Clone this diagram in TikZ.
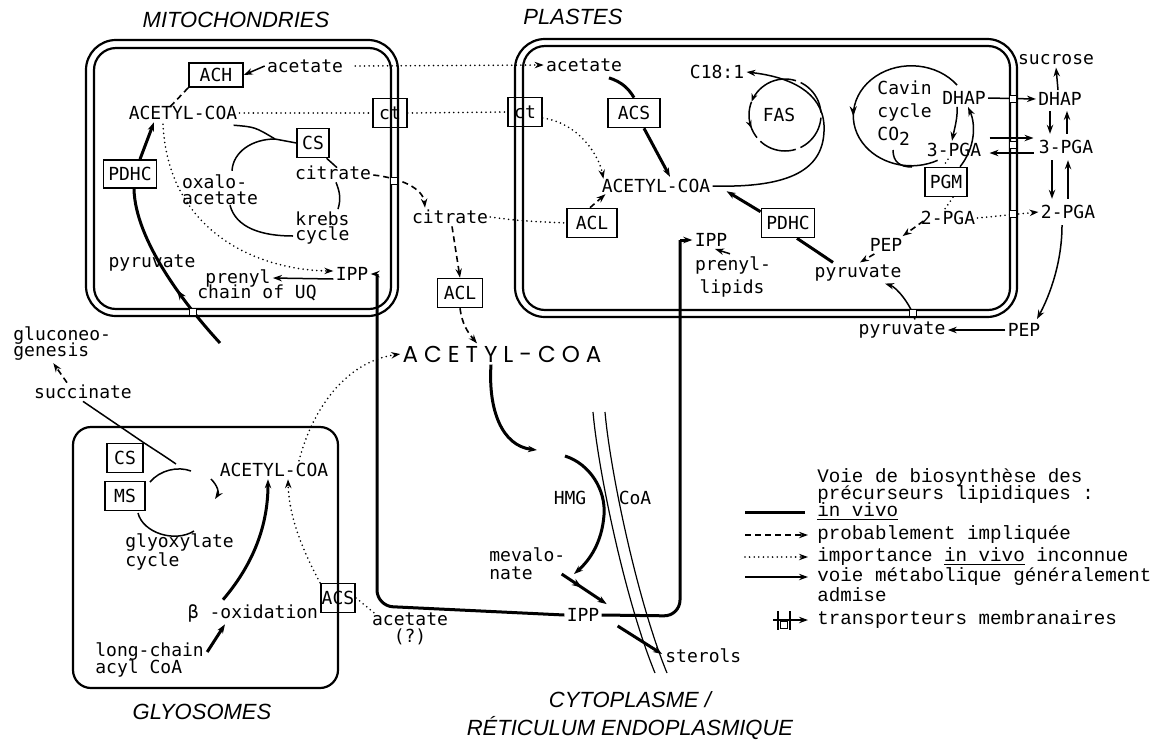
\documentclass[tikz,border=0pt]{standalone}
\usepackage{fontspec}
\setmainfont{Liberation Sans}
\setsansfont{Liberation Sans}
\setmonofont{DejaVu Sans Mono}
\newfontfamily\legfont{Liberation Mono}
\newfontfamily\widefont[LetterSpace=26]{Poppins}
\usetikzlibrary{arrows.meta,positioning,calc,decorations.markings}

\newcommand\labfont{\ttfamily\fontsize{9}{7.8}\selectfont}
\newcommand\titfont{\sffamily\itshape\fontsize{11}{13}\selectfont}

\tikzset{
  lab/.style={font=\labfont, inner sep=1pt},
  enz/.style={draw, line width=0.8pt, font=\labfont, inner xsep=2.5pt, inner ysep=0pt, minimum height=14.5pt},
  tport/.style={draw, line width=0.6pt, fill=white, minimum size=3.6pt, inner sep=0pt},
  arr/.style={-{Stealth[length=4.5pt,width=3.2pt]}},
  invivo/.style={line width=1.5pt},
  usual/.style={line width=0.75pt},
  probable/.style={line width=0.8pt, dash pattern=on 3pt off 2pt},
  unknown/.style={line width=0.9pt, line cap=round, dash pattern=on 0pt off 2.3pt},
  membrane/.style={line width=1.1pt},
  comptitle/.style={font=\titfont, inner sep=0pt},
  leg/.style={font=\legfont\fontsize{9.6}{11}\selectfont, anchor=west, inner sep=0pt},
  midarr/.style={postaction={decorate}, decoration={markings,
    mark=at position #1 with {\arrow{Stealth[length=5pt,width=3.6pt]}}}},
}

\begin{document}
\begin{tikzpicture}[x=0.5pt, y=-0.5pt]
\fill[white] (0,0) rectangle (1160,740);
\useasboundingbox (0,0) rectangle (1160,740);

% compartments
\draw[membrane, rounded corners=15pt] (86,40) rectangle (398,316);
\draw[membrane, rounded corners=11pt] (94,48) rectangle (391,309);
\draw[membrane, rounded corners=15pt] (515,39) rectangle (1017,317);
\draw[membrane, rounded corners=11pt] (523,46) rectangle (1010,310);
\draw[membrane, rounded corners=9pt] (73,427) rectangle (338,688);

\node[comptitle] (tMito) at (236,20) {MITOCHONDRIES};
\node[comptitle] (tPlast) at (573,17) {PLASTES};
\node[comptitle] (tGlyo) at (202,712) {GLYOSOMES};
\node[comptitle] (tCyto) at (630,700) {CYTOPLASME /};
\node[comptitle] (tRet) at (630,728) {RÉTICULUM ENDOPLASMIQUE};

% mitochondries
\node[enz, minimum width=27pt, minimum height=12pt] (achM) at (216,75) {ACH};
\node[lab] (acetM) at (305,66) {acetate};
\node[lab] (acoaM) at (183,113) {ACETYL-COA};
\node[enz, minimum width=17pt] (ctM) at (390,113) {ct};
\node[enz] (csM) at (313,143) {CS};
\node[lab] (citM) at (333,173) {citrate};
\node[lab, align=left] (oxaM) at (220,190) {oxalo-\\acetate};
\node[lab, align=left, anchor=west] (krebs) at (293,228) {krebs\\cycle};
\node[enz, minimum height=14pt] (pdhcM) at (130,174) {PDHC};
\node[lab] (pyrM) at (152,263) {pyruvate};
\node[lab] (ippM) at (352,274) {IPP};
\node[lab] (prenM) at (238,278) {prenyl};
\node[lab] (chainM) at (257,293) {chain of UQ};

% plastes
\node[enz, minimum width=17pt] (ctP) at (525,112) {ct};
\node[lab] (acetP) at (584,65) {acetate};
\node[enz, minimum width=26pt] (acsP) at (634,113) {ACS};
\node[lab] (acoaP) at (656,186) {ACETYL-COA};
\node[enz, minimum width=25pt] (aclP) at (592,223) {ACL};
\node[lab] (ippP) at (711,240) {IPP};
\node[lab] (prenA) at (733,265) {prenyl-};
\node[lab] (prenB) at (732,288) {lipids};
\node[lab] (c18) at (717,72) {C18:1};
\node[lab] (fas) at (779,115) {FAS};
\node[enz, minimum width=25.5pt] (pdhcP) at (788,223) {PDHC};
\node[lab] (pyrP) at (858,273) {pyruvate};
\node[lab] (pepP) at (886,245) {PEP};
\node[lab] (pga2P) at (948,218) {2-PGA};
\node[enz] (pgm) at (946,182) {PGM};
\node[lab] (pga3P) at (954,150) {3-PGA};
\node[lab] (dhapP) at (964,98) {DHAP};
\node[lab, align=left, anchor=west, font=\ttfamily\fontsize{9}{11.5}\selectfont] (calvin) at (875,113) {Cavin\\cycle\\CO\raisebox{-0.5ex}{2}};

% hors plastes
\node[lab] (sucrose) at (1056,60) {sucrose};
\node[lab] (dhapE) at (1060,99) {DHAP};
\node[lab] (pga3E) at (1066,147) {3-PGA};
\node[lab] (pga2E) at (1068,212) {2-PGA};
\node[lab] (pepE) at (1024,330) {PEP};
\node[lab] (pyrE) at (902,330) {pyruvate};

% cytoplasme
\node[lab] (citC) at (450,217) {citrate};
\node[enz, minimum width=22.5pt] (aclC) at (460,293) {ACL};
\node[font=\widefont\fontsize{11.5}{13}\selectfont, inner sep=1pt] (acoaC) at (502,354) {ACETYL-COA};
\node[lab] (hmg) at (570,498) {HMG};
\node[lab] (coaC) at (635,498) {CoA};
\node[lab, anchor=west, inner sep=0pt] (mevA) at (489,555) {mevalo-};
\node[lab, anchor=west, inner sep=0pt] (mevB) at (489,573) {nate};
\node[lab] (ippC) at (583,615) {IPP};
\node[lab, anchor=west] (sterols) at (663,656) {sterols};
\node[lab, anchor=west, inner sep=0pt] (glucoA) at (13,336) {gluconeo-};
\node[lab, anchor=west, inner sep=0pt] (glucoB) at (13,352) {genesis};
\node[lab] (succ) at (83,392) {succinate};
\node[lab, inner sep=0pt] (acetCa) at (410,619) {acetate};
\node[lab, inner sep=0pt] (acetCb) at (410,637) {(?)};

% glyosomes
\node[enz, minimum width=18pt] (csG) at (125,458) {CS};
\node[enz, minimum width=20pt] (msG) at (125,496) {MS};
\node[lab] (acoaG) at (274,470) {ACETYL-COA};
\node[lab, align=left, anchor=west] (glyox) at (123,552) {glyoxylate\\cycle};
\node[lab] (bOx) at (253,613) {β -oxidation};
\node[lab, anchor=west, inner sep=0pt] (lcA) at (95,652) {long-chain};
\node[lab, anchor=west, inner sep=0pt] (lcB) at (95,668) {acyl CoA};
\node[enz, inner xsep=0.5pt] (acsG) at (338,598) {ACS};

% connectors: mitochondries
\draw[usual, arr] (acetM.west) -- (achM.east);
\draw[probable] (achM.south west) -- ($(acoaM.north)+(-13,3)$);
\draw[unknown, arr] ($(acetM.east)+(10,0)$) -- (acetP.west);
\draw[unknown] (acoaM.east) -- (ctM.west);
\draw[unknown] (ctM.east) -- (ctP.west);
\coordinate (kj) at (275,139);
\draw[usual] ($(acoaM.south east)+(-6,3)$) .. controls (255,127) .. (kj) -- (csM.west);
\draw[usual] (kj) .. controls (252,139) and (233,152) .. ($(oxaM.north)+(12,-2)$);
\draw[usual] ($(oxaM.south)+(10,-2)$) .. controls (236,228) and (262,236) .. ($(krebs.west)+(0,8)$);
\draw[usual] ($(citM.south)+(3,0)$) .. controls +(4,10) and +(3,-10) .. ($(krebs.north east)+(-14,0)$);
\draw[usual] ($(csM.south east)+(-3,0)$) -- ($(citM.north)+(4,4)$);
\draw[invivo, arr] ($(pdhcM.north)+(10,0)$) -- ($(acoaM.south)+(-29,0)$);
\coordinate (pyrIn) at (220,343);
\draw[invivo, midarr=0.38] (pyrIn) .. controls (185,305) and (135,240) .. ($(pdhcM.south)+(4,0)$);
\node[tport] (tpPyrM) at (193,312) {};
\draw[unknown, arr] ($(acoaM.south)+(-20,2)$) .. controls (168,230) and (255,270) .. ($(ippM.west)+(0,-3)$);
\draw[usual, arr] ($(ippM.west)+(0,5)$) -- (prenM.east);

% connectors: IPP cytoplasmique
\coordinate (cyBL) at (377,606);
\coordinate (cyBR) at (680,616);
\draw[invivo, rounded corners=8pt] (ippC.west) -- (cyBL) -- (cyBL |- ippM.east);
\draw[invivo, arr] (cyBL |- ippM.east) -- (ippM.east);
\draw[invivo, rounded corners=8pt] (ippC.east) -- (cyBR) -- (cyBR |- ippP.west);
\draw[invivo, arr] (cyBR |- ippP.west) -- (ippP.west);

% connectors: citrate et acetyl-CoA
\draw[probable, arr] ($(citM.east)+(0,2)$) .. controls (400,178) and (423,188) .. ($(citC.north)+(-25,0)$);
\node[tport] (tpCit) at (394,181) {};
\draw[probable, arr] ($(citC.south)+(2,0)$) -- (aclC.north);
\draw[probable, arr] (aclC.south) .. controls +(2,15) and +(-10,-12) .. ($(acoaC.north)+(-25,0)$);
\draw[unknown] (citC.east) .. controls (525,222) and (550,222) .. (aclP.west);
\draw[unknown, arr] ($(acoaG.north)+(25,0)$) .. controls (312,410) and (345,362) .. (acoaC.west);

% connectors: HMG-CoA, mevalonate
\coordinate (hmgA) at (537,450);
\coordinate (hmgB) at (565,456);
\coordinate (mevIn) at (574,574);
\draw[invivo, arr] ($(acoaC.south)+(-11,0)$) .. controls (488,410) and (502,446) .. (hmgA);
\draw[invivo, arr] (hmgB) .. controls (590,464) and (606,490) .. (604,515) .. controls (602,542) and (590,560) .. (mevIn);
\draw[line width=0.6pt] (593,412) .. controls (598,470) and (625,600) .. (655,673);
\draw[line width=0.6pt] (605,412) .. controls (610,470) and (637,600) .. (667,673);
\draw[invivo, midarr=0.45, arr] ($(mevA.east)+(-4,19)$) -- ($(ippC.north east)+(5,-2)$);
\draw[invivo, arr] ($(ippC.south east)+(16,2)$) -- ($(sterols.west)+(-1,-2)$);
\draw[probable, arr] ($(succ.north)+(-16,0)$) -- ($(glucoB.south)+(2,2)$);

% connectors: glyosomes
\coordinate (gj) at (176,464);
\draw[usual] (succ.south) -- (csG.north east) .. controls (155,450) and (166,457) .. (gj);
\draw[usual] (150,482) .. controls (160,470) and (178,466) .. (191,471);
\draw[usual, arr] (211,479) .. controls (218,486) and (219,493) .. (215,499);
\draw[usual] (138,513) .. controls (143,533) and (175,543) .. (194,531);
\draw[invivo, arr] ($(bOx.north)+(-30,-2)$) .. controls (250,568) and (268,530) .. ($(acoaG.south)+(-6,0)$);
\draw[invivo, arr] ($(lcA.east)+(3,0)$) -- ($(bOx.south)+(-28,0)$);
\draw[unknown, arr] (acsG.north west) .. controls (300,545) and (289,515) .. ($(acoaG.south)+(14,0)$);
\draw[unknown] (acsG.east) -- ($(acetCa.north west)+(4,2)$);

% connectors: plastes
\draw[invivo] ($(acetP.south)+(25,4)$) .. controls (622,82) and (629,89) .. (acsP.north);
\draw[invivo, arr] ($(acsP.south)+(10,0)$) -- ($(acoaP.north)+(14,0)$);
\draw[probable, arr] ($(aclP.north)+(-2,0)$) -- ($(acoaP.south west)+(6,-1)$);
\draw[unknown, arr] ($(ctP.east)+(0,6)$) .. controls +(35,5) and +(-5,-25) .. ($(acoaP.north west)+(4,2)$);
\draw[usual, arr] ($(prenA.north)+(-3,0)$) -- ($(ippP.south)+(4,0)$);
\draw[usual, arr] (acoaP.east) .. controls (790,188) and (826,170) .. (824,125) .. controls (822,92) and (790,77) .. (c18.east);
\draw[usual, dash pattern=on 19pt off 2.5pt, postaction={decorate}, decoration={markings,
    mark=at position 0.19 with {\arrow{Stealth[length=4pt,width=3pt]}},
    mark=at position 0.31 with {\arrow{Stealth[length=4pt,width=3pt]}}}]
  ($(fas.center)+(6,-36)$) arc[start angle=90, end angle=450, radius=18pt];
\draw[invivo] ($(pyrP.north)+(-25,0)$) -- ($(pdhcP.south)+(9,0)$);
\draw[invivo, arr] ($(pdhcP.north west)+(0,4)$) -- ($(acoaP.south east)+(14,-4)$);
\draw[probable, arr] ($(pepP.south west)+(7,0)$) -- ($(pyrP.north)+(2,0)$);
\draw[probable, arr] ($(pga2P.west)+(5,3)$) -- ($(pepP.north east)+(-2,0)$);
\draw[unknown] ($(pgm.south)+(7,0)$) -- ($(pga2P.north)+(-3,0)$);
\draw[unknown] ($(pga3P.south)+(-6,0)$) -- ($(pgm.north)+(-3,0)$);
\draw[usual, arr] ($(dhapP.south)+(-7,0)$) .. controls +(1,10) and +(2,-10) .. ($(pga3P.north)+(-2,0)$);
\draw[usual, arr] ($(pgm.north east)+(-8,0)$) .. controls (975,148) and (976,125) .. ($(dhapP.south)+(4,0)$);
\draw[usual, midarr=0.55] (957,85) arc[start angle=38, end angle=297, x radius=29pt, y radius=25pt];
\draw[usual] (893,150) .. controls (893,162) and (900,167) .. (912,167);

% transporteurs
\draw[usual, arr] (dhapP.east) -- (dhapE.west);
\node[tport] (tpDhap) at (1013,99) {};
\draw[usual, arr] ($(pga3P.east)+(6,-12)$) -- ($(pga3E.west)+(-3,-9)$);
\draw[usual, arr] ($(pga3E.west)+(-3,6)$) -- ($(pga3P.east)+(6,3)$);
\node[tport] (tpPga3) at (1013,145) {};
\draw[unknown, arr] (pga2P.east) -- (pga2E.west);
\node[tport] (tpPga2) at (1013,214) {};
\draw[usual, arr] ($(dhapE.north)+(-2,0)$) -- (sucrose.south);
\draw[usual, arr] ($(dhapE.south)+(-10,3)$) -- ($(pga3E.north)+(-16,-4)$);
\draw[usual, arr] ($(pga3E.north)+(1,-4)$) -- ($(dhapE.south)+(7,3)$);
\draw[usual, arr] ($(pga3E.south)+(-14,4)$) -- ($(pga2E.north)+(-16,-4)$);
\draw[usual, arr] ($(pga2E.north)+(0,-4)$) -- ($(pga3E.south)+(2,4)$);
\draw[usual, arr] ($(pga2E.south)+(-6,4)$) .. controls (1062,262) and (1050,295) .. ($(pepE.north)+(13,-2)$);
\draw[usual, arr] (pepE.west) -- (pyrE.east);
\draw[usual, arr] ($(pyrE.north)+(13,0)$) .. controls (910,303) and (896,287) .. ($(pyrP.south)+(27,0)$);
\node[tport] (tpPyrP) at (913,313) {};

% legende
\node[leg] (lg0) at (817,478) {Voie de biosynthèse des};
\node[leg] (lg1) at (817,495) {précurseurs lipidiques :};
\node[leg] (lg2) at (817,512) {\underline{in vivo}};
\node[leg] (lg3) at (817,535) {probablement impliquée};
\node[leg] (lg4) at (817,557) {importance \underline{in vivo} inconnue};
\node[leg] (lg5) at (817,577) {voie métabolique généralement};
\node[leg] (lg6) at (817,595) {admise};
\node[leg] (lg7) at (817,620) {transporteurs membranaires};
\draw[invivo] ($(lg2.west)+(-72,0)$) -- ($(lg2.west)+(-12,0)$);
\draw[probable, arr] ($(lg3.west)+(-72,0)$) -- ($(lg3.west)+(-9,0)$);
\draw[unknown, arr] ($(lg4.west)+(-72,0)$) -- ($(lg4.west)+(-9,0)$);
\draw[usual, arr] ($(lg5.west)+(-72,0)$) -- ($(lg5.west)+(-9,0)$);
\draw[membrane] ($(lg7.west)+(-39,-9)$) -- ($(lg7.west)+(-39,10)$);
\draw[membrane] ($(lg7.west)+(-27,-9)$) -- ($(lg7.west)+(-27,10)$);
\draw[usual, arr] ($(lg7.west)+(-44,0)$) -- ($(lg7.west)+(-9,0)$);
\node[tport] (tpLeg) at ($(lg7.west)+(-33,5)$) {};
\end{tikzpicture}
\end{document}
